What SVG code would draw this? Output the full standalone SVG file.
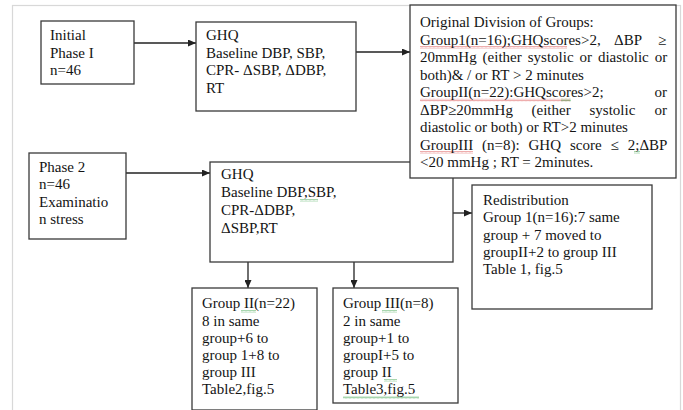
<svg xmlns="http://www.w3.org/2000/svg" width="683" height="410" viewBox="0 0 683 410">
  <style>
    .box { fill: #ffffff; stroke: #3a3a3a; stroke-width: 1.3; }
    .frame { fill: #ffffff; stroke: #d8d8d8; stroke-width: 1.2; }
    .txt { font-family: "Liberation Serif", "Times New Roman", serif; font-size: 15px; fill: #141414; }
    .link { stroke: #222222; stroke-width: 1.3; fill: none; }
    .sq-red { fill: url(#wavyRed); opacity: 0.75; }
    .sq-green { fill: url(#wavyGreen); opacity: 0.75; }
  </style>
  <defs>
    <marker id="arrow" markerWidth="8" markerHeight="7" refX="8" refY="3.5" orient="auto" markerUnits="userSpaceOnUse">
      <path d="M0,0 L8,3.5 L0,7 z" fill="#222222"/>
    </marker>
    <pattern id="wavyRed" width="4" height="3" patternUnits="userSpaceOnUse">
      <path d="M0,2.5 L1,0.5 L2,2.5 L3,0.5 L4,2.5" stroke="#d94848" stroke-width="0.6" fill="none"/>
    </pattern>
    <pattern id="wavyGreen" width="4" height="3" patternUnits="userSpaceOnUse">
      <path d="M0,2.5 L1,0.5 L2,2.5 L3,0.5 L4,2.5" stroke="#3aa34a" stroke-width="0.6" fill="none"/>
    </pattern>
  </defs>

  <rect width="683" height="410" fill="#ffffff"/>
  <rect class="frame" x="12.5" y="5.5" width="668" height="420"/>

  <g id="connectors">
    <line class="link" x1="134" y1="43" x2="196" y2="43" marker-end="url(#arrow)"/>
    <line class="link" x1="356" y1="52" x2="410" y2="52" marker-end="url(#arrow)"/>
    <line class="link" x1="126" y1="173" x2="210" y2="173" marker-end="url(#arrow)"/>
    <line class="link" x1="248" y1="262" x2="248" y2="288" marker-end="url(#arrow)"/>
    <line class="link" x1="354" y1="262" x2="354" y2="288" marker-end="url(#arrow)"/>
    <line class="link" x1="453" y1="213" x2="472" y2="213" marker-end="url(#arrow)"/>
  </g>

  <g id="initial-phase">
    <rect class="box" x="41" y="21" width="93" height="63"/>
    <text class="txt">
      <tspan x="50" y="40">Initial</tspan>
      <tspan x="50" y="57.5">Phase I</tspan>
      <tspan x="50" y="75">n=46</tspan>
    </text>
  </g>

  <g id="ghq-phase1">
    <rect class="box" x="196" y="22" width="160" height="89"/>
    <text class="txt">
      <tspan x="206" y="40">GHQ</tspan>
      <tspan x="206" y="57.5">Baseline DBP, SBP,</tspan>
      <tspan x="206" y="75">CPR- ΔSBP, ΔDBP,</tspan>
      <tspan x="206" y="92.5">RT</tspan>
    </text>
  </g>

  <g id="phase-2">
    <rect class="box" x="29" y="153" width="97" height="86"/>
    <text class="txt">
      <tspan x="39" y="171.5">Phase 2</tspan>
      <tspan x="39" y="189">n=46</tspan>
      <tspan x="39" y="206.5">Examinatio</tspan>
      <tspan x="39" y="224">n stress</tspan>
    </text>
  </g>

  <g id="ghq-phase2">
    <rect class="box" x="210" y="162" width="243" height="100"/>
    <rect class="sq-green" x="300" y="199" width="18" height="3"/>
    <text class="txt">
      <tspan x="221" y="179">GHQ</tspan>
      <tspan x="221" y="197">Baseline DBP,SBP,</tspan>
      <tspan x="221" y="215">CPR-ΔDBP,</tspan>
      <tspan x="221" y="233">ΔSBP,RT</tspan>
    </text>
  </g>

  <!-- drawn after the phase 2 GHQ box so its white fill covers the overlap -->
  <g id="original-division">
    <rect class="box" x="410" y="5" width="266" height="173"/>
    <rect class="sq-red" x="420" y="46" width="147" height="3"/>
    <rect class="sq-red" x="420" y="98.5" width="150" height="3"/>
    <rect class="sq-green" x="561" y="98.5" width="10" height="3"/>
    <rect class="sq-red" x="420" y="151" width="53" height="3"/>
    <rect class="sq-green" x="634" y="151" width="6" height="3"/>
    <text class="txt">
      <tspan x="420" y="27">Original Division of Groups:</tspan>
      <tspan x="420" y="44.5">Group1(n=16);GHQscores&gt;2,</tspan>
      <tspan x="614" y="44.5">ΔBP</tspan>
      <tspan x="658" y="44.5">≥</tspan>
      <tspan x="420" y="62" word-spacing="2.2">20mmHg (either systolic or diastolic or</tspan>
      <tspan x="420" y="79.5">both)&amp; / or RT  &gt; 2 minutes</tspan>
      <tspan x="420" y="97">GroupII(n=22):GHQscores&gt;2;</tspan>
      <tspan x="654.5" y="97">or</tspan>
      <tspan x="420" y="114.5">ΔBP≥20mmHg</tspan>
      <tspan x="531.5" y="114.5">(either</tspan>
      <tspan x="589.5" y="114.5">systolic</tspan>
      <tspan x="654.5" y="114.5">or</tspan>
      <tspan x="420" y="132">diastolic or both) or RT&gt;2 minutes</tspan>
      <tspan x="420" y="149.5">GroupIII</tspan>
      <tspan x="482" y="149.5">(n=8):</tspan>
      <tspan x="528.5" y="149.5">GHQ</tspan>
      <tspan x="570" y="149.5">score</tspan>
      <tspan x="610.5" y="149.5">≤</tspan>
      <tspan x="627.8" y="149.5">2;ΔBP</tspan>
      <tspan x="420" y="167">&lt;20 mmHg ; RT = 2minutes.</tspan>
    </text>
  </g>

  <g id="redistribution">
    <rect class="box" x="472" y="185" width="180" height="124"/>
    <text class="txt">
      <tspan x="483" y="205">Redistribution</tspan>
      <tspan x="483" y="222">Group 1(n=16):7 same</tspan>
      <tspan x="483" y="239.5">group + 7 moved to</tspan>
      <tspan x="483" y="256.5">groupII+2 to group III</tspan>
      <tspan x="483" y="273.5">Table 1, fig.5</tspan>
    </text>
  </g>

  <g id="group-ii">
    <rect class="box" x="192" y="288" width="125" height="122"/>
    <rect class="sq-green" x="241" y="310" width="15" height="3"/>
    <text class="txt">
      <tspan x="202" y="308">Group II(n=22)</tspan>
      <tspan x="202" y="325.5">8 in same</tspan>
      <tspan x="202" y="343">group+6 to</tspan>
      <tspan x="202" y="360">group 1+8 to</tspan>
      <tspan x="202" y="377">group III</tspan>
      <tspan x="202" y="394">Table2,fig.5</tspan>
    </text>
  </g>

  <g id="group-iii">
    <rect class="box" x="333" y="288" width="125" height="115"/>
    <rect class="sq-green" x="382" y="310" width="15" height="3"/>
    <rect class="sq-green" x="384" y="379" width="13" height="3"/>
    <rect class="sq-green" x="343" y="396" width="76" height="3"/>
    <text class="txt">
      <tspan x="343" y="308">Group III(n=8)</tspan>
      <tspan x="343" y="325.5">2 in same</tspan>
      <tspan x="343" y="343">group+1 to</tspan>
      <tspan x="343" y="360">groupI+5 to</tspan>
      <tspan x="343" y="377">group II</tspan>
      <tspan x="343" y="394">Table3,fig.5</tspan>
    </text>
  </g>
</svg>
